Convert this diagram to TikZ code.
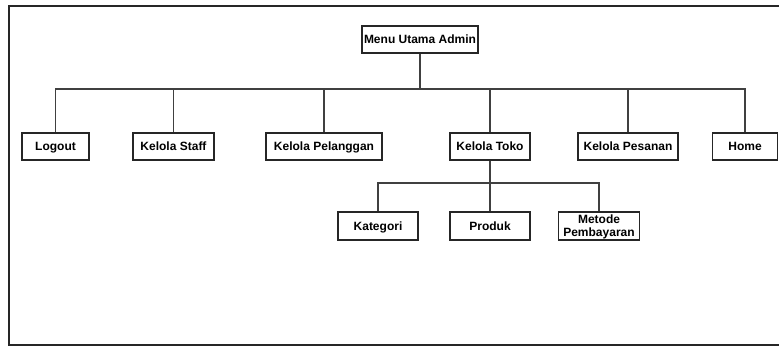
\documentclass[tikz,border=0pt]{standalone}
\usepackage{fontspec}
\setmainfont{Liberation Sans}
\tikzset{
    menubox/.style={draw=black!85, line width=1.2pt, minimum height=27pt, inner sep=1pt,
        font=\fontsize{12}{13}\selectfont\bfseries, text height=8.6pt, text depth=0pt},
    twoline/.style={menubox, text height=, align=center},
    link/.style={draw=black!75, line width=1.2pt}
}
\begin{document}
\begin{tikzpicture}[x=1pt, y=-1pt]
    \useasboundingbox (0,0) rectangle (779,347);

    % Frame
    \draw[line width=1.2pt, black!85] (779,6) -| (9,345) -- (779,345);

    % Main menu
    \node[menubox, minimum width=116pt] (menu) at (420,39.5) {Menu Utama Admin};
    \coordinate (bus) at (420,89);

    % First level
    \node[menubox, minimum width=67pt] (logout) at (55.5,146.5) {Logout};
    \node[menubox, minimum width=81pt] (staff) at (173.5,146.5) {Kelola Staff};
    \node[menubox, minimum width=116pt] (pelanggan) at (324,146.5) {Kelola Pelanggan};
    \node[menubox, minimum width=80pt] (toko) at (490,146.5) {Kelola Toko};
    \node[menubox, minimum width=100pt] (pesanan) at (628,146.5) {Kelola Pesanan};
    \node[menubox, minimum width=65pt] (home) at (745,146.5) {Home};

    % Second level
    \coordinate (subbus) at (490,183);
    \node[menubox, minimum width=80pt, minimum height=28pt] (kategori) at (378,226) {Kategori};
    \node[menubox, minimum width=80pt, minimum height=28pt] (produk) at (490,226) {Produk};
    \node[twoline, minimum width=81pt, minimum height=28pt] (metode) at (599,226) {Metode\\Pembayaran};

    % Connectors
    \draw[link] (menu.south) -- (bus);
    \foreach \n in {logout, staff, pelanggan, toko, pesanan, home}
        \draw[link] (bus) -| (\n.north);
    \draw[link] (toko.south) -- (subbus);
    \foreach \n in {kategori, produk, metode}
        \draw[link] (subbus) -| (\n.north);
\end{tikzpicture}
\end{document}
